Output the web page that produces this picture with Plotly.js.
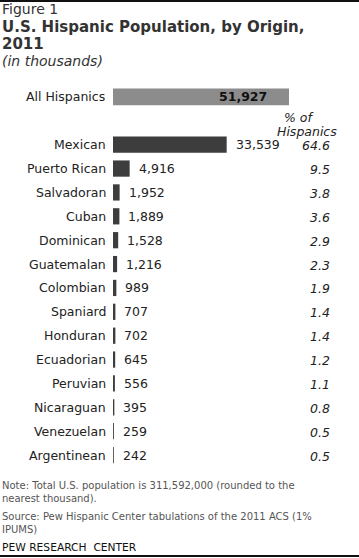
<!DOCTYPE html>
<html><head><meta charset="utf-8">
<script src="https://cdn.plot.ly/plotly-3.0.1.min.js"></script>
<style>html,body{margin:0;padding:0;background:#fff}#c{width:359px;height:558px}</style>
</head><body><div id="c"></div>
<script>
const totalLabel = "All Hispanics";
const totalValue = 51927;
const origins = ["Mexican","Puerto Rican","Salvadoran","Cuban","Dominican","Guatemalan","Colombian","Spaniard","Honduran","Ecuadorian","Peruvian","Nicaraguan","Venezuelan","Argentinean"];
const values = [33539,4916,1952,1889,1528,1216,989,707,702,645,556,395,259,242];
const shares = ["64.6","9.5","3.8","3.6","2.9","2.3","1.9","1.4","1.4","1.2","1.1","0.8","0.5","0.5"];
const noteText = "Note: Total U.S. population is 311,592,000 (rounded to the<br>nearest thousand).";
const sourceText = "Source: Pew Hispanic Center tabulations of the 2011 ACS (1%<br>IPUMS)";

const W = 359, H = 558;
const L = 113, R = 10, T = 85, B = 91;
const plotW = W - L - R, plotH = H - T - B;
const px = x => (x - L) / plotW;
const py = y => 1 - (y - T) / plotH;
const fmt = v => v.toLocaleString('en-US');
const FONT = "DejaVu Sans, Verdana, sans-serif";

const pos = origins.map((_, i) => i);
const traces = [
  {type:'bar', orientation:'h', x:[totalValue], y:[-2], width:0.7,
   marker:{color:'#8c8c8c'}, hoverinfo:'none'},
  {type:'bar', orientation:'h', x:values, y:pos, width:0.68,
   marker:{color:'#3d3d3d'}, hoverinfo:'none'}
];

const ann = [];
const lab = {size:12.5, color:'#222', family:FONT};
ann.push({x:0, y:-2, xref:'x', yref:'y', text:totalLabel, xanchor:'right', xshift:-6, showarrow:false, font:lab});
ann.push({x:totalValue, y:-2, xref:'x', yref:'y', text:'<b>'+fmt(totalValue)+'</b>', xanchor:'right', xshift:-20, showarrow:false, font:{size:12.5,color:'#111',family:FONT}});
origins.forEach((o, i) => {
  ann.push({x:0, y:i, xref:'x', yref:'y', text:o, xanchor:'right', xshift:-5, showarrow:false, font:lab});
  ann.push({x:values[i], y:i, xref:'x', yref:'y', text:fmt(values[i]), xanchor:'left', xshift:7, showarrow:false, font:lab});
  ann.push({x:px(332), y:i, xref:'paper', yref:'y', text:'<i>'+shares[i]+'</i>', xanchor:'right', yshift:-1, showarrow:false, font:lab});
});
ann.push({x:px(282), y:py(118), xref:'paper', yref:'paper', text:'<i>% of</i>', xanchor:'left', yanchor:'middle', showarrow:false, font:lab});
ann.push({x:px(275), y:py(131), xref:'paper', yref:'paper', text:'<i>Hispanics</i>', xanchor:'left', yanchor:'middle', showarrow:false, font:lab});

// header texts
ann.push({x:px(0), y:py(9), xref:'paper', yref:'paper', text:'Figure 1', xanchor:'left', yanchor:'middle', showarrow:false, font:{size:14,color:'#333',family:FONT}});
ann.push({x:px(0), y:py(27), xref:'paper', yref:'paper', text:'<b>U.S. Hispanic Population, by Origin,</b>', xanchor:'left', yanchor:'middle', showarrow:false, font:{size:15,color:'#333',family:FONT}});
ann.push({x:px(0), y:py(44), xref:'paper', yref:'paper', text:'<b>2011</b>', xanchor:'left', yanchor:'middle', showarrow:false, font:{size:15,color:'#333',family:FONT}});
ann.push({x:px(0), y:py(61), xref:'paper', yref:'paper', text:'<i>(in thousands)</i>', xanchor:'left', yanchor:'middle', showarrow:false, font:{size:14,color:'#333',family:FONT}});

// footer
const foot = {size:10, color:'#555', family:FONT};
ann.push({x:px(0), y:py(492), xref:'paper', yref:'paper', align:'left', text:noteText, xanchor:'left', yanchor:'middle', showarrow:false, font:foot});
ann.push({x:px(0), y:py(523), xref:'paper', yref:'paper', align:'left', text:sourceText, xanchor:'left', yanchor:'middle', showarrow:false, font:foot});
ann.push({x:px(0), y:py(547), xref:'paper', yref:'paper', text:'PEW RESEARCH  CENTER', xanchor:'left', yanchor:'middle', showarrow:false, font:{size:10.7,color:'#111',family:FONT}});

const shapes = [
  {type:'line', xref:'paper', yref:'paper', x0:px(0), x1:px(359), y0:py(1), y1:py(1), line:{color:'#111', width:2}},
  {type:'line', xref:'paper', yref:'paper', x0:px(0), x1:px(359), y0:py(556), y1:py(556), line:{color:'#111', width:2}}
];

const layout = {
  width:W, height:H, margin:{l:L, r:R, t:T, b:B, pad:0},
  paper_bgcolor:'#fff', plot_bgcolor:'#fff', showlegend:false, barmode:'overlay',
  xaxis:{range:[0, totalValue*plotW/176], visible:false, fixedrange:true},
  yaxis:{range:[13.5, -2.5], visible:false, fixedrange:true},
  annotations:ann, shapes:shapes
};
Plotly.newPlot('c', traces, layout, {staticPlot:true, displayModeBar:false});
</script></body></html>
